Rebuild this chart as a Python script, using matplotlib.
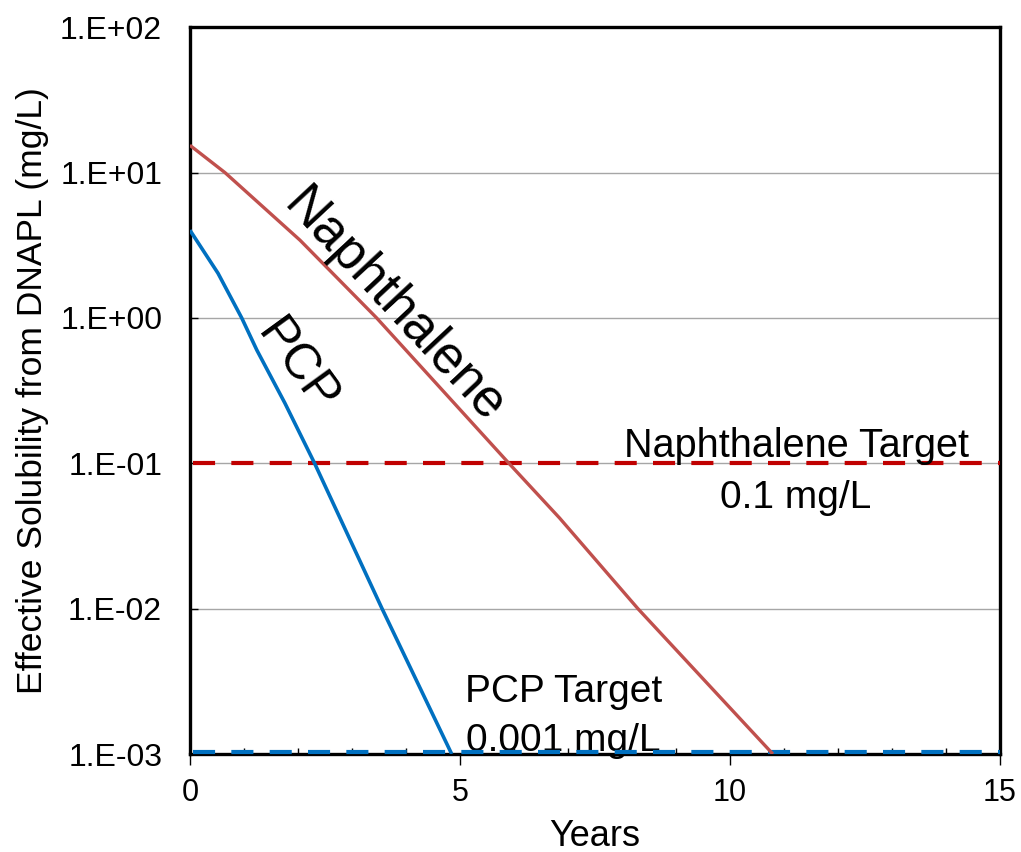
import numpy as np
import matplotlib
matplotlib.use("Agg")
import matplotlib.pyplot as plt
import matplotlib.transforms as mtransforms
from matplotlib.ticker import FixedLocator, FixedFormatter, MultipleLocator

# ---- data ----
naph_years = [0, 0.65, 2.04, 3.46, 5.91, 6.85, 8.3, 10.8]
naph_log = [1.188, 1.0, 0.535, 0.0, -1.0, -1.377, -2.0, -3.0]
pcp_years = [0, 0.52, 0.96, 1.24, 1.76, 2.31, 3.56, 4.85]
pcp_log = [0.604, 0.308, 0.0, -0.221, -0.586, -1.0, -2.0, -3.0]
target_x = [0.05, 15]
naph_target = 0.1
pcp_target = 0.001
y_ticks = [1e-3, 1e-2, 1e-1, 1e0, 1e1, 1e2]
y_ticklabels = ["1.E-03", "1.E-02", "1.E-01", "1.E+00", "1.E+01", "1.E+02"]
x_ticks = [0, 5, 10, 15]

plt.rcParams['font.family'] = ['Liberation Sans', 'DejaVu Sans']

fig = plt.figure(figsize=(10.21, 8.52), dpi=100)
ax = fig.add_axes([0.186, 0.115, 0.793, 0.853])

naph = [10 ** v for v in naph_log]
pcp = [10 ** v for v in pcp_log]

ax.plot(target_x, [naph_target] * 2, color='#C00000', lw=3.0,
        linestyle=(0, (5.3, 3.9)), zorder=3)
up = mtransforms.offset_copy(ax.transData, fig=fig, x=0, y=2.5, units='dots')
ax.plot(target_x, [pcp_target] * 2, color='#0070C0', lw=3.0,
        linestyle=(0, (5.3, 3.9)), zorder=3, clip_on=False, transform=up)
ax.plot(naph_years, naph, color='#C0504D', lw=2.4, zorder=4,
        solid_capstyle='butt', solid_joinstyle='round')
ax.plot(pcp_years, pcp, color='#0070C0', lw=2.6, zorder=4,
        solid_capstyle='butt', solid_joinstyle='round')

ax.set_yscale('log')
ax.set_xlim(0, 15)
ax.set_ylim(1e-3, 1e2)
ax.yaxis.set_major_locator(FixedLocator(y_ticks))
ax.yaxis.set_major_formatter(FixedFormatter(y_ticklabels))
ax.yaxis.set_minor_locator(FixedLocator([]))
ax.set_xticks(x_ticks)
ax.xaxis.set_minor_locator(MultipleLocator(1))
ax.grid(True, axis='y', which='major', color='#A6A6A6', lw=1.0, zorder=1)
ax.set_axisbelow(True)

ax.tick_params(axis='y', which='major', direction='in', length=6, width=1,
               labelsize=23, pad=20, colors='black')
ax.tick_params(axis='x', which='major', direction='out', length=8, width=1,
               labelsize=22, pad=9)
ax.tick_params(axis='x', which='minor', direction='in', length=4, width=1)

for s in ax.spines.values():
    s.set_linewidth(2.4)
    s.set_color('black')
    s.set_zorder(2.5)

ax.set_xlabel('Years', fontsize=26, labelpad=8)
ax.set_ylabel('Effective Solubility from DNAPL (mg/L)', fontsize=25.5, labelpad=8)

ax.text(3.77, 10 ** 0.08, 'Naphthalene', fontsize=38, rotation=-47,
        ha='center', va='center', rotation_mode='anchor', zorder=5)
ax.text(1.98, 10 ** -0.34, 'PCP', fontsize=36, rotation=-54,
        ha='center', va='center', rotation_mode='anchor', zorder=5)
ax.text(11.24, 10 ** -0.88, 'Naphthalene Target', fontsize=28.5,
        ha='center', va='center', zorder=5)
ax.text(11.23, 10 ** -1.24, '0.1 mg/L', fontsize=28,
        ha='center', va='center', zorder=5)
ax.text(6.92, 10 ** -2.57, 'PCP Target', fontsize=28,
        ha='center', va='center', zorder=5)
ax.text(6.92, 10 ** -2.91, '0.001 mg/L', fontsize=28,
        ha='center', va='center', zorder=2)

fig.savefig('out.png', dpi=100)
